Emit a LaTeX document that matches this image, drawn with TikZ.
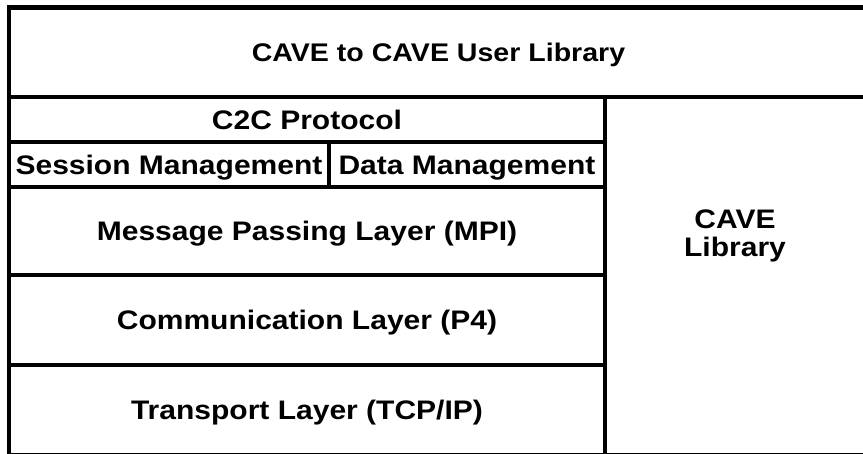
\documentclass[tikz,border=0pt]{standalone}
\usepackage{fontspec}
\setmainfont[FakeStretch=1.12]{Liberation Sans}
\begin{document}
\begin{tikzpicture}[x=1pt,y=-1pt,
  cell/.style={draw=black, line width=4.5pt, inner sep=0pt, align=center,
    text height=19.2pt, text depth=0pt,
    font=\fontsize{26.8}{28}\selectfont\bfseries},
  subcell/.style={cell, line width=3.5pt},
  label/.style={inner sep=0pt, align=center,
    font=\fontsize{26.8}{28}\selectfont\bfseries}]
  \useasboundingbox (0,0) rectangle (863,453);
  \fill[white] (0,0) rectangle (863,453);

  % top layer spanning the whole width
  \node[cell, minimum width=859pt, minimum height=89.5pt, text height=18.3pt,
    font=\fontsize{25.5}{28}\selectfont\bfseries] (userlib) at (438.5,52.25)
    {CAVE to CAVE User Library};

  % protocol stack on the left
  \node[cell, minimum width=596pt, minimum height=45pt] (c2c) at (307,119.5) {C2C Protocol};
  \node[subcell, minimum width=320pt, minimum height=45pt] (session) at (169,164.5) {Session Management};
  \node[subcell, minimum width=276pt, minimum height=45pt] (data) at (467,164.5) {Data Management};
  \node[cell, minimum width=596pt, minimum height=88pt] (mpi) at (307,231) {Message Passing Layer (MPI)};
  \node[cell, minimum width=596pt, minimum height=90pt] (comm) at (307,320) {Communication Layer (P4)};
  \node[cell, minimum width=596pt, minimum height=90pt] (transport) at (307,410) {Transport Layer (TCP/IP)};

  % library column on the right
  \node[cell, minimum width=263pt, minimum height=358pt] (cavelib) at (736.5,276) {};
  \node[label] (cavetext) at (735,236) {CAVE\\Library};
\end{tikzpicture}
\end{document}
